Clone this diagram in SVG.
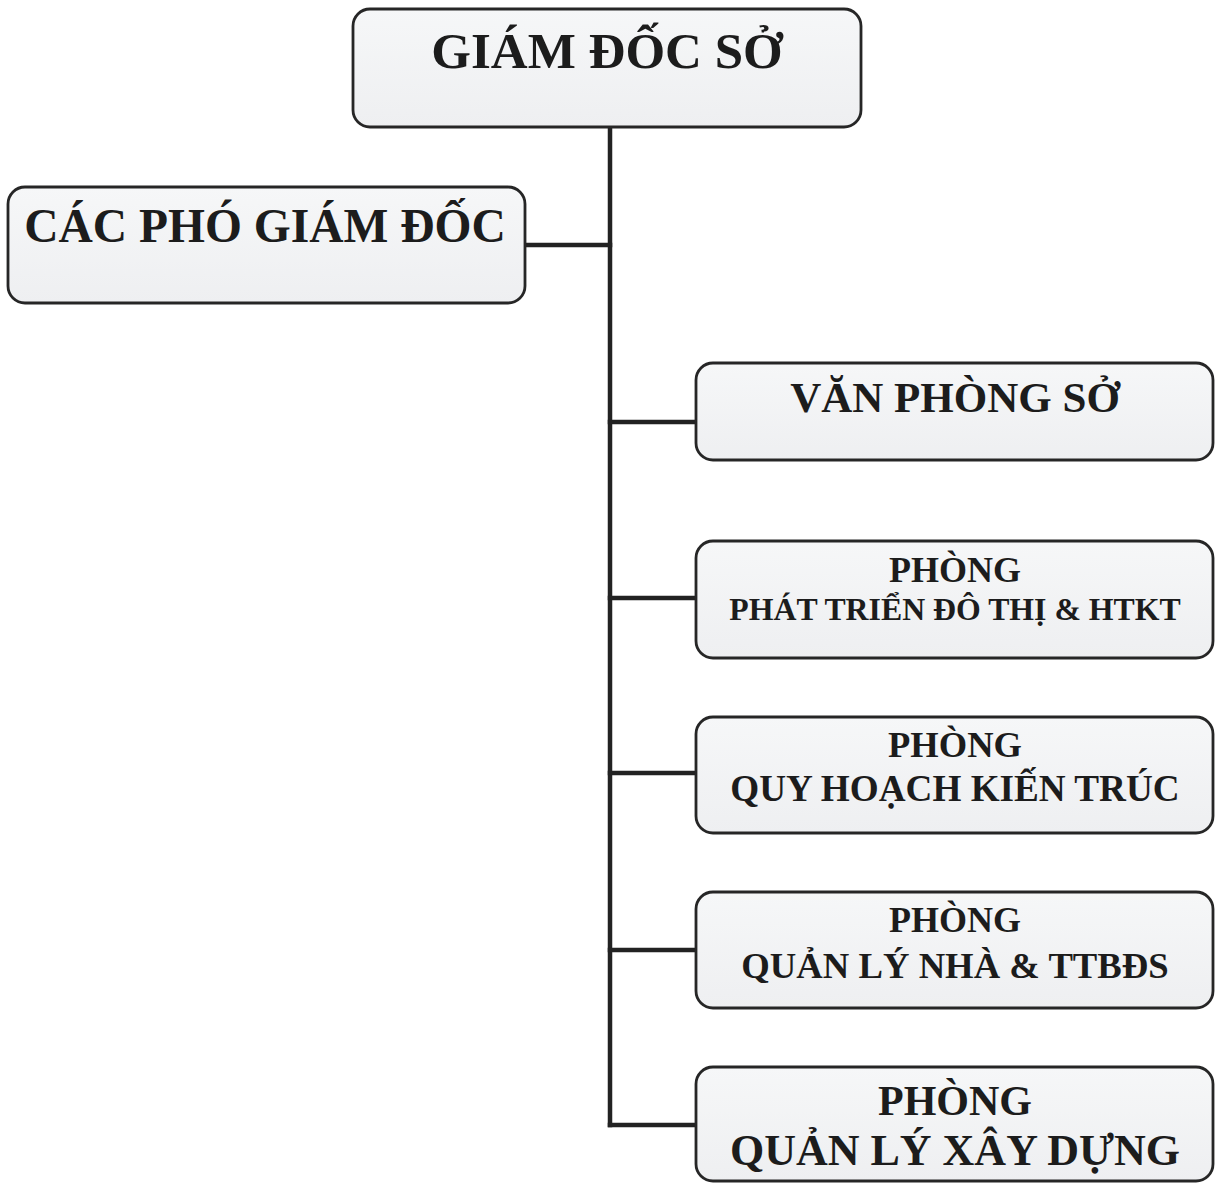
<svg xmlns="http://www.w3.org/2000/svg" width="1223" height="1184" viewBox="0 0 1223 1184">
<defs>
<linearGradient id="boxfill" x1="0" y1="0" x2="0" y2="1">
<stop offset="0" stop-color="#f6f7f8"/>
<stop offset="1" stop-color="#eeeff1"/>
</linearGradient>
</defs>
<style>
.box{fill:url(#boxfill);stroke:#262626;stroke-width:2.8}
.t{font-family:"Liberation Serif","Times New Roman",serif;font-weight:bold;fill:#1c1c1c;text-anchor:middle}
.conn{stroke:#222;stroke-width:4.5;fill:none;stroke-linecap:square}
</style>
<rect width="1223" height="1184" fill="#ffffff"/>
<g id="connectors">
<line class="conn" x1="610" y1="127" x2="610" y2="1125"/>
<line class="conn" x1="526" y1="245" x2="610" y2="245"/>
<line class="conn" x1="610" y1="422" x2="696" y2="422"/>
<line class="conn" x1="610" y1="598" x2="696" y2="598"/>
<line class="conn" x1="610" y1="773" x2="696" y2="773"/>
<line class="conn" x1="610" y1="950" x2="696" y2="950"/>
<line class="conn" x1="610" y1="1125" x2="696" y2="1125"/>
</g>
<g id="giam-doc-so">
<rect class="box" x="353" y="9" width="508" height="118" rx="17"/>
<text class="t" x="607" y="68" font-size="51">GIÁM ĐỐC SỞ</text>
</g>
<g id="cac-pho-giam-doc">
<rect class="box" x="8" y="187" width="517" height="116" rx="17"/>
<text class="t" x="265" y="242" font-size="47.5">CÁC PHÓ GIÁM ĐỐC</text>
</g>
<g id="van-phong-so">
<rect class="box" x="696" y="363" width="517" height="97" rx="17"/>
<text class="t" x="955" y="412" font-size="43">VĂN PHÒNG SỞ</text>
</g>
<g id="phong-phat-trien-do-thi">
<rect class="box" x="696" y="541" width="517" height="117" rx="17"/>
<text class="t" x="955" y="582" font-size="36">PHÒNG</text>
<text class="t" x="955" y="620" font-size="31.8">PHÁT TRIỂN ĐÔ THỊ &amp; HTKT</text>
</g>
<g id="phong-quy-hoach-kien-truc">
<rect class="box" x="696" y="717" width="517" height="116" rx="17"/>
<text class="t" x="955" y="757" font-size="36.5">PHÒNG</text>
<text class="t" x="955" y="801" font-size="37.2">QUY HOẠCH KIẾN TRÚC</text>
</g>
<g id="phong-quan-ly-nha">
<rect class="box" x="696" y="892" width="517" height="116" rx="17"/>
<text class="t" x="955" y="932" font-size="36">PHÒNG</text>
<text class="t" x="955" y="978" font-size="36.7">QUẢN LÝ NHÀ &amp; TTBĐS</text>
</g>
<g id="phong-quan-ly-xay-dung">
<rect class="box" x="696" y="1067" width="517" height="114" rx="17"/>
<text class="t" x="955" y="1115" font-size="42">PHÒNG</text>
<text class="t" x="955" y="1165" font-size="44">QUẢN LÝ XÂY DỰNG</text>
</g>
</svg>
